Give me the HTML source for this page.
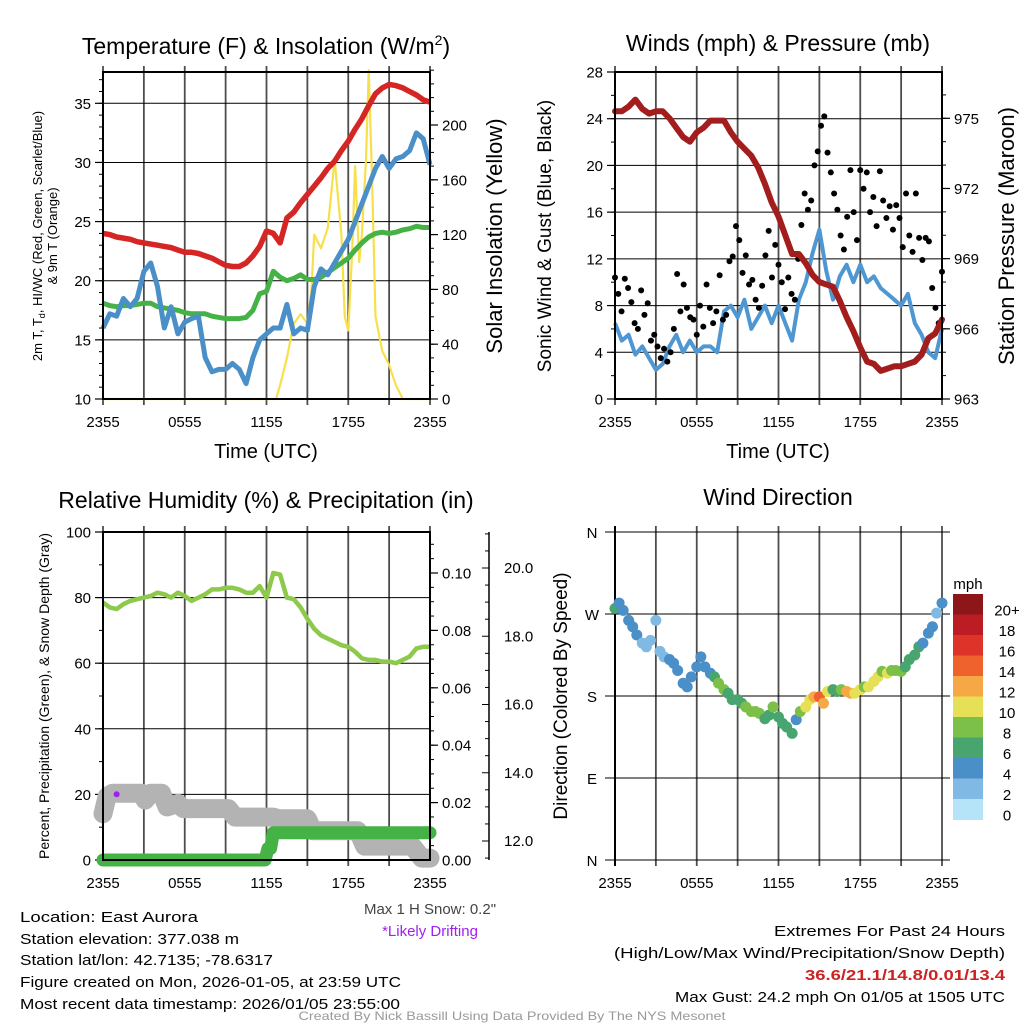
<!DOCTYPE html>
<html><head><meta charset="utf-8"><style>
body{margin:0;background:#fff}
svg{display:block;font-family:"Liberation Sans",sans-serif}
</style></head><body>
<svg id="fig" width="1024" height="1024" viewBox="0 0 1024 1024" xmlns="http://www.w3.org/2000/svg">
<rect x="0" y="0" width="1024" height="1024" fill="#fff"/>
<text x="266" y="54" font-size="23" text-anchor="middle">Temperature (F) &amp; Insolation (W/m<tspan font-size="14" dy="-9">2</tspan><tspan dy="9">)</tspan></text>
<text x="778" y="51" font-size="23" text-anchor="middle">Winds (mph) &amp; Pressure (mb)</text>
<text x="266" y="508" font-size="23" text-anchor="middle">Relative Humidity (%) &amp; Precipitation (in)</text>
<text x="778" y="505" font-size="23" text-anchor="middle">Wind Direction</text>
<text x="266" y="458" font-size="20" text-anchor="middle">Time (UTC)</text>
<text x="778" y="458" font-size="20" text-anchor="middle">Time (UTC)</text>
<g font-size="13" text-anchor="middle">
<text transform="translate(42,236) rotate(-90)">2m T, T<tspan font-size="9" dy="3">d</tspan><tspan dy="-3">, HI/WC (Red, Green, Scarlet/Blue)</tspan></text>
<text transform="translate(57,236) rotate(-90)">&amp; 9m T (Orange)</text>
</g>
<text transform="translate(502,236) rotate(-90)" font-size="22" text-anchor="middle">Solar Insolation (Yellow)</text>
<text transform="translate(551,236) rotate(-90)" font-size="19" text-anchor="middle">Sonic Wind &amp; Gust (Blue, Black)</text>
<text transform="translate(1014,236) rotate(-90)" font-size="22" text-anchor="middle">Station Pressure (Maroon)</text>
<text transform="translate(49,696) rotate(-90)" font-size="14" text-anchor="middle">Percent, Precipitation (Green), &amp; Snow Depth (Gray)</text>
<text transform="translate(567,696) rotate(-90)" font-size="19" text-anchor="middle">Direction (Colored By Speed)</text>
<text x="968" y="589" font-size="15" text-anchor="middle">mph</text>
<text x="430" y="914" font-size="15" fill="#444" text-anchor="middle">Max 1 H Snow: 0.2"</text>
<text x="430" y="936" font-size="15" fill="#a020f0" text-anchor="middle">*Likely Drifting</text>
<g font-size="15">
<text x="20" y="922" textLength="178" lengthAdjust="spacingAndGlyphs">Location: East Aurora</text>
<text x="20" y="944" textLength="219" lengthAdjust="spacingAndGlyphs">Station elevation: 377.038 m</text>
<text x="20" y="965" textLength="253" lengthAdjust="spacingAndGlyphs">Station lat/lon: 42.7135; -78.6317</text>
<text x="20" y="987" textLength="381" lengthAdjust="spacingAndGlyphs">Figure created on Mon, 2026-01-05, at 23:59 UTC</text>
<text x="20" y="1009" textLength="380" lengthAdjust="spacingAndGlyphs">Most recent data timestamp: 2026/01/05 23:55:00</text>
</g>
<g font-size="15" text-anchor="end">
<text x="1005" y="936" textLength="231" lengthAdjust="spacingAndGlyphs">Extremes For Past 24 Hours</text>
<text x="1005" y="958" textLength="391" lengthAdjust="spacingAndGlyphs">(High/Low/Max Wind/Precipitation/Snow Depth)</text>
<text x="1005" y="980" font-weight="bold" fill="#cc2222" textLength="200" lengthAdjust="spacingAndGlyphs">36.6/21.1/14.8/0.01/13.4</text>
<text x="1005" y="1002" textLength="330" lengthAdjust="spacingAndGlyphs">Max Gust: 24.2 mph On 01/05 at 1505 UTC</text>
</g>
<text x="512" y="1020" font-size="12" fill="#999" text-anchor="middle" textLength="427" lengthAdjust="spacingAndGlyphs">Created By Nick Bassill Using Data Provided By The NYS Mesonet</text>
</svg>
<script>
// ---------- data ----------
const hours = [0,0.5,1,1.5,2,2.5,3,3.5,4,4.5,5,5.5,6,6.5,7,7.5,8,8.5,9,9.5,10,10.5,11,11.5,12,12.5,13,13.5,14,14.5,15,15.5,16,16.5,17,17.5,18,18.5,19,19.5,20,20.5,21,21.5,22,22.5,23,23.5,24];
const tempRed = [24.0,23.9,23.7,23.6,23.5,23.3,23.2,23.1,23.0,22.9,22.8,22.6,22.4,22.4,22.3,22.1,21.9,21.6,21.3,21.2,21.2,21.5,22.1,22.9,24.2,24.0,23.2,25.3,25.8,26.6,27.3,28.0,28.7,29.5,30.1,31.0,31.8,32.8,33.7,34.8,35.8,36.3,36.6,36.5,36.3,36.0,35.7,35.3,35.1];
const tempGreen = [18.1,17.9,17.8,17.9,17.9,18.0,18.1,18.1,17.8,17.7,17.6,17.5,17.3,17.2,17.2,17.2,17.0,16.9,16.8,16.8,16.8,16.9,17.5,18.9,19.1,20.8,20.3,20.0,20.2,20.5,20.1,20.1,20.3,20.7,21.1,21.5,21.9,22.6,23.2,23.7,24.0,24.1,24.0,24.1,24.3,24.4,24.6,24.5,24.5];
const tempBlue = [16.0,17.2,17.0,18.5,17.8,18.5,20.8,21.5,19.5,16.0,17.8,15.5,16.5,16.8,17.0,13.5,12.3,12.5,12.5,13.0,12.5,11.3,13.5,15.0,15.5,16.0,16.0,18.0,15.5,16.0,15.8,19.5,21.0,20.5,21.5,22.5,23.5,25.0,26.5,28.0,29.5,30.5,29.5,30.3,30.5,31.0,32.5,32.0,29.8];
const insolHours = [0,12.7,13,13.5,14,14.5,15,15.3,15.5,16,16.5,17,17.5,17.75,18,18.3,18.5,18.8,19,19.3,19.5,19.75,20,20.5,21,21.5,22,24];
const insolVals = [0,0,10,30,55,62,55,80,120,110,125,175,120,60,50,110,170,100,120,175,240,160,60,35,25,10,0,0];
const windSustained = [6.5,5.0,5.5,3.8,4.5,3.5,2.5,3.0,4.5,5.5,4.0,5.0,4.0,4.5,4.5,4.0,7.5,8.0,7.0,8.5,6.0,7.0,8.0,6.5,8.0,6.5,5.0,8.5,10.0,12.5,14.5,11.0,8.5,10.5,11.5,10.0,11.5,10.0,10.5,9.5,9.0,8.5,8.0,9.0,6.5,5.5,4.0,3.5,6.0];
const pressure = [975.3,975.3,975.5,975.8,975.4,975.2,975.3,975.3,975.0,974.6,974.2,974.0,974.4,974.6,974.9,974.9,974.9,974.4,974.0,973.7,973.4,972.9,972.2,971.4,970.8,970.0,969.2,969.2,968.8,968.3,968.0,967.9,967.8,967.2,966.5,965.9,965.2,964.6,964.5,964.2,964.3,964.4,964.4,964.5,964.6,964.9,965.6,965.8,966.4];
const gusts = [10.4,9.0,7.5,10.3,9.5,8.3,6.5,6.0,9.3,7.2,8.2,5.0,5.5,4.5,3.5,4.3,3.2,4.0,6.0,10.7,7.5,9.8,7.8,7.0,6.8,5.5,8.0,6.2,9.8,7.8,6.5,7.5,10.6,6.8,7.2,11.8,12.2,14.8,13.6,10.8,12.3,9.8,10.2,8.5,7.8,9.7,12.3,14.4,10.4,13.2,11.5,10.0,7.7,10.4,9.0,8.5,12.0,14.9,17.6,16.2,17.0,20.0,21.2,23.4,24.2,21.1,19.4,17.6,16.2,14.0,12.8,15.6,19.6,16.0,13.6,19.6,18.0,19.4,16.0,17.3,14.8,19.5,17.0,15.5,16.5,14.5,16.6,15.5,13.0,17.6,14.0,12.6,17.6,13.8,11.9,13.8,13.5,9.5,7.8,6.5,10.9];
const rhVals = [78.5,77,76.5,78,79,79.5,80,80.5,81.5,81,80,81.5,80.5,79,80,81,82.5,82.5,83,83,82.5,81.5,81.5,83.5,80,87.5,87,80,79.5,77,73.5,70.5,68.5,67.5,66.5,65.5,65,63.5,61.5,61,61,60.5,60.5,60,61,62,64.5,65,65];
const snowHours = [0,0.3,0.7,2.8,3.1,3.5,4.3,4.7,5.5,5.9,9.2,9.7,12.5,12.9,15.0,15.4,18.7,19.2,22.7,23.4,24];
const snowDepth = [12.8,13.3,13.4,13.4,13.2,13.4,13.4,13.0,13.1,12.95,12.95,12.7,12.7,12.65,12.65,12.3,12.3,11.85,11.85,11.5,11.5];
const precipHours = [0,11.9,12.1,12.3,12.5,24];
const precipVals = [0,0,0.004,0.004,0.0095,0.0095];
const dirHours = [0,0.3,0.6,1,1.3,1.6,2,2.3,2.6,3,3.3,3.6,4,4.3,4.6,5,5.3,5.6,6,6.3,6.6,7,7.3,7.6,8,8.3,8.6,9,9.3,9.6,10,10.3,10.6,11,11.3,11.6,12,12.3,12.6,13,13.3,13.6,14,14.3,14.6,15,15.3,15.6,16,16.3,16.6,17,17.3,17.6,18,18.3,18.6,19,19.3,19.6,20,20.3,20.6,21,21.3,21.6,22,22.3,22.6,23,23.3,23.6,24];
const dirDeg = [276,282,274,263,256,247,238,234,241,263,229,223,220,216,208,194,190,201,212,223,212,205,201,194,187,183,176,176,172,168,163,163,161,155,159,168,157,150,146,139,154,163,168,176,179,179,172,185,187,185,187,185,183,183,187,190,190,196,201,207,205,208,208,207,212,220,225,234,238,249,256,271,282];
const dirSpeed = [6,5,4.5,4.5,4.5,5,3,2.5,3,2.5,3,3,5,4.5,4.5,4.5,4.5,4.5,5,4.5,5,5,7,8,8,7,6,7,7,8,8,8,8,7,7,9,6,7,7,6,5,9,10,11,12,15,13,11,7,7,9,12,12,11,11,9,10,10,10,9,10,9,8,8,7,6,7,7,5,4,5,3,4];
const speedBins = ["0","2","4","6","8","10","12","14","16","18","20+"];
const binColors = ["#b5e3f8","#7fb9e4","#4a8fc7","#48a56f","#7cc04a","#e5e055","#f6a847","#ef622d","#de3328","#bc1c23","#8d1619"];
const timeLabels = ["2355","0555","1155","1755","2355"];

// ---------- helpers ----------
const NS = "http://www.w3.org/2000/svg";
const svg = document.getElementById("fig");
function mk(tag, attrs, parent) {
  const e = document.createElementNS(NS, tag);
  for (const k in attrs) e.setAttribute(k, attrs[k]);
  (parent || svg).appendChild(e);
  return e;
}
function group(name) {
  const g = mk("g", {});
  
  
  return g;
}
function linePath(xs, ys, fx, fy) {
  let d = "";
  for (let i = 0; i < xs.length; i++) d += (i ? "L" : "M") + fx(xs[i]).toFixed(1) + "," + fy(ys[i]).toFixed(1);
  return d;
}
function xScale(x0, x1) { return h => x0 + h * (x1 - x0) / 24; }
function lin(d0, d1, r0, r1) { return v => r0 + (v - d0) * (r1 - r0) / (d1 - d0); }

function frame(p, name) {
  const g = group(name + "-grid");
  for (let h = 0; h <= 24; h += 3) {
    const x = p.x(h);
    const l = mk("line", {x1: x, x2: x, y1: p.y0 - 6, y2: p.y1 + 6, stroke: "#4d4d4d", "stroke-width": 1.8}, g);
    
    
  }
  for (let i = 0; i < timeLabels.length; i++) {
    const t = mk("text", {x: p.x(i * 6), y: p.y1 + 28, "font-size": 15, "text-anchor": "middle"}, g);
    t.textContent = timeLabels[i];
    
    
  }
  return g;
}
function yAxis(p, g, scale, ticks, minors, fmt, side, grid) {
  const xe = side === "left" ? p.x0 : p.x1;
  const dir = side === "left" ? -1 : 1;
  for (const v of minors) {
    const y = scale(v);
    const l = mk("line", {x1: xe, x2: xe + dir * 4, y1: y, y2: y, stroke: "#000", "stroke-width": 1}, g);
    
    
  }
  for (const v of ticks) {
    const y = scale(v);
    if (grid) {
      const gl = mk("line", {x1: p.x0, x2: p.x1, y1: y, y2: y, stroke: "#000", "stroke-width": 1}, g);
      
      
    }
    const l = mk("line", {x1: xe, x2: xe + dir * 8, y1: y, y2: y, stroke: "#000", "stroke-width": 1.2}, g);
    
    
    const t = mk("text", {x: xe + dir * 12, y: y + 5.5, "font-size": 15, "text-anchor": side === "left" ? "end" : "start"}, g);
    t.textContent = fmt(v);
    
    
  }
}
function border(p, g) {
  const r = mk("rect", {x: p.x0, y: p.y0, width: p.x1 - p.x0, height: p.y1 - p.y0, fill: "none", stroke: "#000", "stroke-width": 2}, g);
  
  
}
function range(a, b, s) { const r = []; for (let v = a; v <= b + 1e-9; v += s) r.push(+v.toFixed(4)); return r; }

// ---------- panel 1: temperature ----------
const p1 = {x0: 103, x1: 430, y0: 72, y1: 399}; p1.x = xScale(p1.x0, p1.x1);
const yT = lin(10, 35, 399, 103.3);
const yI = lin(0, 200, 399, 125);
const g1 = frame(p1, "temperature");
yAxis(p1, g1, yT, range(10, 35, 5), range(10, 37, 1), v => v, "left", true);
yAxis(p1, g1, yI, range(0, 200, 40), range(0, 240, 10), v => v, "right", false);
const s1 = group("temperature-series");
const ins = mk("path", {d: linePath(insolHours, insolVals, p1.x, yI), fill: "none", stroke: "#f7e04a", "stroke-width": 2.2, "stroke-linejoin": "round"}, s1);


const gr = mk("path", {d: linePath(hours, tempGreen, p1.x, yT), fill: "none", stroke: "#44b244", "stroke-width": 5, "stroke-linejoin": "round"}, s1);


const bl = mk("path", {d: linePath(hours, tempBlue, p1.x, yT), fill: "none", stroke: "#4a8fc7", "stroke-width": 5, "stroke-linejoin": "round"}, s1);


const rd = mk("path", {d: linePath(hours, tempRed, p1.x, yT), fill: "none", stroke: "#d62525", "stroke-width": 5.5, "stroke-linejoin": "round"}, s1);


border(p1, s1);

// ---------- panel 2: winds ----------
const p2 = {x0: 615, x1: 942, y0: 72, y1: 399}; p2.x = xScale(p2.x0, p2.x1);
const yW = lin(0, 28, 399, 72);
const yP = lin(963, 975, 399, 118.3);
const g2 = frame(p2, "winds");
yAxis(p2, g2, yW, range(0, 28, 4), range(0, 28, 2), v => v, "left", true);
yAxis(p2, g2, yP, range(963, 975, 3), range(963, 976, 1), v => v, "right", false);
const s2 = group("winds-series");
const ws = mk("path", {d: linePath(hours, windSustained, p2.x, yW), fill: "none", stroke: "#4f97d3", "stroke-width": 4, "stroke-linejoin": "round"}, s2);


for (let i = 0; i < gusts.length; i++) {
  const c = mk("circle", {cx: p2.x(i * 0.24), cy: yW(gusts[i]), r: 3, fill: "#000"}, s2);
  
  
}
const pr = mk("path", {d: linePath(hours, pressure, p2.x, yP), fill: "none", stroke: "#a31d1d", "stroke-width": 6, "stroke-linejoin": "round", "stroke-linecap": "round"}, s2);


border(p2, s2);

// ---------- panel 3: humidity ----------
const p3 = {x0: 103, x1: 430, y0: 532, y1: 860}; p3.x = xScale(p3.x0, p3.x1);
const yR = lin(0, 100, 860, 532);
const yPr = lin(0, 0.1, 860, 573);
const ySn = lin(12, 20, 841, 568);
const g3 = frame(p3, "humidity");
yAxis(p3, g3, yR, range(0, 100, 20), range(0, 100, 10), v => v, "left", true);
yAxis(p3, g3, yPr, range(0, 0.1, 0.02), range(0, 0.11, 0.005), v => v.toFixed(2), "right", false);
const sa = group("snow-depth-axis");
const sal = mk("line", {x1: 489, x2: 489, y1: 532, y2: 860, stroke: "#000", "stroke-width": 1.5}, sa);


for (const v of range(11.5, 21, 0.5)) {
  const y = ySn(v); if (y < 532 || y > 860) continue;
  const major = Math.abs(v % 2) < 1e-6;
  const l = mk("line", {x1: 489, x2: major ? 482 : 485, y1: y, y2: y, stroke: "#000", "stroke-width": 1}, sa);
  
  
  if (major) {
    const t = mk("text", {x: 504, y: y + 5, "font-size": 15}, sa);
    t.textContent = v.toFixed(1);
    
    
  }
}
const s3 = group("humidity-series");
const sn = mk("path", {d: linePath(snowHours, snowDepth, p3.x, ySn), fill: "none", stroke: "#b3b3b3", "stroke-width": 19, "stroke-linejoin": "round", "stroke-linecap": "round"}, s3);


const dr = mk("circle", {cx: p3.x(1.0), cy: ySn(13.4) + 1, r: 3, fill: "#a020f0"}, s3);


const pc = mk("path", {d: linePath(precipHours, precipVals, p3.x, yPr), fill: "none", stroke: "#44b244", "stroke-width": 13, "stroke-linejoin": "round", "stroke-linecap": "round"}, s3);


const rh = mk("path", {d: linePath(hours, rhVals, p3.x, yR), fill: "none", stroke: "#8dc94a", "stroke-width": 4.5, "stroke-linejoin": "round"}, s3);


border(p3, s3);

// ---------- panel 4: wind direction ----------
const p4 = {x0: 615, x1: 942, y0: 532, y1: 860}; p4.x = xScale(p4.x0, p4.x1);
const yD = lin(0, 360, 860, 532);
const g4 = frame(p4, "wind-direction");
const dirLabels = ["N", "E", "S", "W", "N"];
for (let i = 0; i < 5; i++) {
  const y = yD(i * 90);
  const gl = mk("line", {x1: p4.x0 - 10, x2: p4.x1 + 8, y1: y, y2: y, stroke: "#000", "stroke-width": 1}, g4);
  
  
  const t = mk("text", {x: 592, y: y + 6, "font-size": 15, "text-anchor": "middle"}, g4);
  t.textContent = dirLabels[i];
  
  
}
const vl = mk("line", {x1: p4.x0, x2: p4.x0, y1: p4.y0 - 6, y2: p4.y1 + 6, stroke: "#000", "stroke-width": 2}, g4);


const s4 = group("wind-direction-series");
for (let i = 0; i < dirHours.length; i++) {
  const b = Math.min(10, Math.floor(dirSpeed[i] / 2));
  const c = mk("circle", {cx: p4.x(dirHours[i]), cy: yD(dirDeg[i]), r: 5.5, fill: binColors[b]}, s4);
  
  
}
const cb = group("speed-colorbar");
const cbTop = 594, cbH = 20.5;
for (let i = 0; i < speedBins.length; i++) {
  const k = speedBins.length - 1 - i;
  const r = mk("rect", {x: 953, y: cbTop + i * cbH, width: 30, height: cbH + 0.5, fill: binColors[k]}, cb);
  
  
  const t = mk("text", {x: 1007, y: cbTop + i * cbH + cbH / 2 + 11, "font-size": 15, "text-anchor": "middle"}, cb);
  t.textContent = speedBins[k];
  
  
}
</script>
</body></html>
